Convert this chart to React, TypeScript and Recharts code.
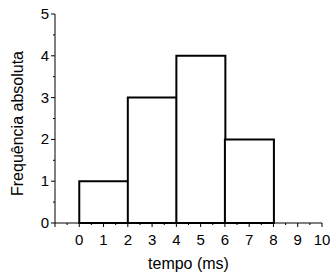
import { BarChart, Bar, XAxis, YAxis, Label } from "recharts";

// histogram: 2 ms bins, centres + counts
const binCenters = [1, 3, 5, 7];
const counts = [1, 3, 4, 2];

const xTicks = [
  -1, -0.5, 0, 0.5, 1, 1.5, 2, 2.5, 3, 3.5, 4, 4.5, 5, 5.5, 6, 6.5, 7, 7.5, 8,
  8.5, 9, 9.5, 10,
];
const yTicks = [0, 0.5, 1, 1.5, 2, 2.5, 3, 3.5, 4, 4.5, 5];

const xTitle = "tempo (ms)";
const yTitle = "Frequência absoluta";

const data = binCenters.map((x, i) => ({ x, count: counts[i] }));

const FONT = "'Liberation Sans', Arial, sans-serif";
const INK = "#000";

function XTick(props: any) {
  const { x, y, payload } = props;
  const v = payload.value;
  const major = Number.isInteger(v);
  return (
    <g>
      <line x1={x} x2={x} y1={y} y2={y + (major ? 4 : 2)} stroke={INK} />
      {major && v >= 0 && (
        <text x={x} y={y + 22} textAnchor="middle" fontSize={15} fill={INK} fontFamily={FONT}>
          {v}
        </text>
      )}
    </g>
  );
}

function YTick(props: any) {
  const { x, y, payload } = props;
  const v = payload.value;
  const major = Number.isInteger(v);
  return (
    <g>
      <line x1={x - (major ? 4 : 2)} x2={x} y1={y} y2={y} stroke={INK} />
      {major && (
        <text x={x - 6} y={y + 5} textAnchor="end" fontSize={15} fill={INK} fontFamily={FONT}>
          {v}
        </text>
      )}
    </g>
  );
}

export default function App() {
  return (
    <div style={{ position: "absolute", left: 0, top: 0 }}>
      <BarChart
        width={332}
        height={280}
        data={data}
        margin={{ top: 14, right: 10, left: 0, bottom: 0 }}
        barCategoryGap={0}
        barGap={0}
        style={{ fontFamily: FONT }}
      >
        <XAxis
          dataKey="x"
          type="number"
          domain={[-1, 10]}
          ticks={xTicks}
          interval={0}
          height={57}
          tickSize={0}
          tickMargin={0}
          tickLine={false}
          axisLine={{ stroke: INK }}
          tick={<XTick />}
        >
          <Label
            content={({ viewBox }: any) => (
              <text
                x={viewBox.x + viewBox.width / 2}
                y={viewBox.y + 46}
                textAnchor="middle"
                fontSize={16}
                fill={INK}
                fontFamily={FONT}
              >
                {xTitle}
              </text>
            )}
          />
        </XAxis>
        <YAxis
          type="number"
          domain={[0, 5]}
          ticks={yTicks}
          interval={0}
          width={55}
          tickSize={0}
          tickMargin={0}
          tickLine={false}
          axisLine={{ stroke: INK }}
          tick={<YTick />}
        >
          <Label
            content={({ viewBox }: any) => {
              const cx = viewBox.x + 23;
              const cy = viewBox.y + viewBox.height / 2 + 5;
              return (
                <text
                  x={cx}
                  y={cy}
                  transform={`rotate(-90 ${cx} ${cy})`}
                  textAnchor="middle"
                  fontSize={16}
                  fill={INK}
                  fontFamily={FONT}
                >
                  {yTitle}
                </text>
              );
            }}
          />
        </YAxis>
        <Bar
          dataKey="count"
          fill="#fff"
          stroke={INK}
          strokeWidth={2}
          isAnimationActive={false}
        />
      </BarChart>
    </div>
  );
}
